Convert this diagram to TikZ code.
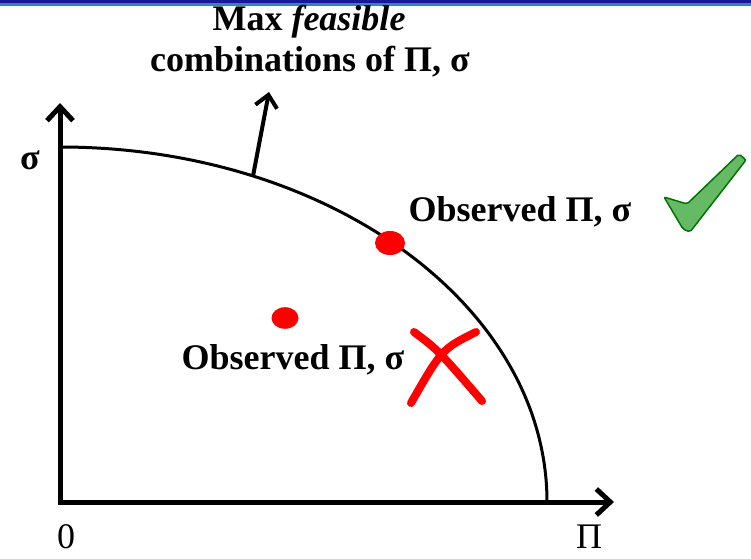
\documentclass[tikz,border=0pt]{standalone}
\usepackage{fontspec}
\setmainfont{Liberation Serif}
\usetikzlibrary{arrows.meta,shapes.geometric}

\begin{document}
\begin{tikzpicture}[
  x=1pt, y=1pt,
  every node/.style={inner sep=1pt, font=\fontsize{36}{40}\selectfont\bfseries},
  axis/.style={line width=5pt, -{Straight Barb[length=14pt, width=26pt, line width=5pt]}},
  pointer/.style={line width=4pt, -{Straight Barb[length=12pt, width=22pt, line width=4pt]}},
  dot/.style={ellipse, fill=red, minimum width=#1, minimum height=0.8*#1, inner sep=0pt},
  cross/.style={line width=8pt, red, line cap=round}
]
\useasboundingbox (0,0) rectangle (751,558);
% header band
\fill[blue!55!black!90] (0,555) rectangle (751,558);
\fill[blue!45!cyan!70!black!80] (0,551.5) rectangle (751,554.5);
% axes
\coordinate (O) at (60,56);
\coordinate (ytip) at (60,455);
\coordinate (xtip) at (614,56);
\draw[axis, line cap=rect] (O) -- (ytip);
\draw[axis] (O) -- (xtip);
\node (zero) at (66,21) {\mdseries 0};
\node (pilabel) at (589,21) {\mdseries Π};
\node (sigmalabel) at (30,398) {σ};
% frontier
\coordinate (ftop) at (60,411);
\draw[line width=3pt] (ftop) arc[start angle=90, end angle=0, x radius=487, y radius=355];
\coordinate (base) at (253,382);
\coordinate (ptip) at (269,466);
\draw[pointer] (base) -- (ptip);
\node (maxline) at (309,536) {Max \textit{feasible}};
\node (combline) at (310,496) {combinations of Π, σ};
% observed points
\node[dot=30pt] (good) at (390,315) {};
\node[dot=27pt] (bad) at (285,240) {};
\node (goodlabel) at (520,346) {Observed Π, σ};
\node (badlabel) at (293,198) {Observed Π, σ};
% check mark
\filldraw[fill=green!55!black!60, draw=green!45!black, line width=1.5pt, rounded corners=2pt]
  (664,361) -- (687,354) -- (739,404) -- (746,398) -- (690,326) -- (683,329) -- cycle;
% cross
\draw[cross] (414,226) .. controls (438,208) .. (482,157);
\draw[cross] (476,226) .. controls (442,209) .. (411,155);
\end{tikzpicture}
\end{document}
